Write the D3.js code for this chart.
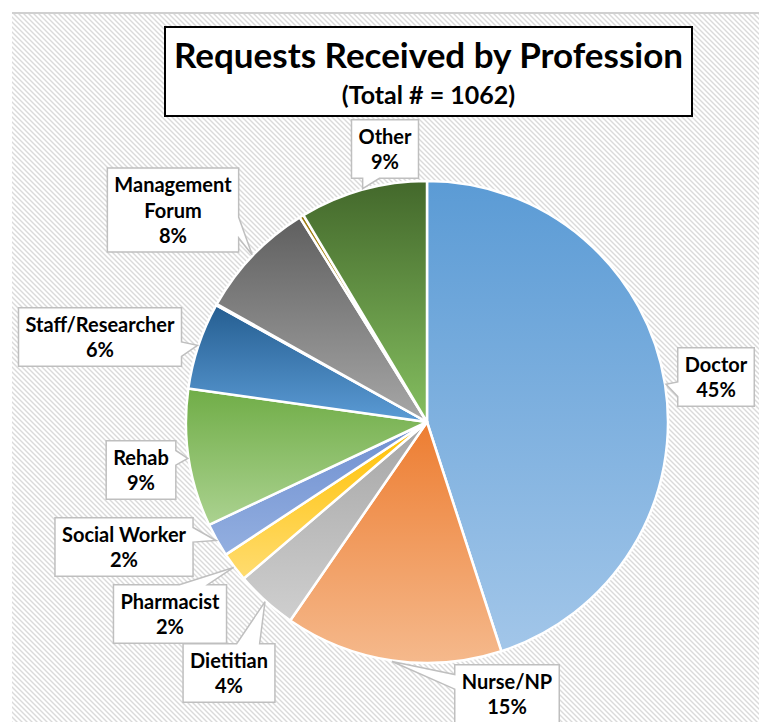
<!DOCTYPE html>
<html><head><meta charset="utf-8">
<script src="https://cdn.jsdelivr.net/npm/d3@7/dist/d3.min.js"></script>
<style>html,body{margin:0;padding:0;background:#fff;} svg{display:block;}</style>
</head><body>
<svg id="chart" width="763" height="722"></svg>
<script>
// ---------- data ----------
const categories = ["Doctor","Nurse/NP","Dietitian","Pharmacist","Social Worker","Rehab","Staff/Researcher","Unspecified A","Management Forum","Unspecified B","Other"];
const counts     = [478, 155, 44, 21, 24, 98, 62, 1, 85, 3, 91];
const labelLines = [["Doctor"],["Nurse/NP"],["Dietitian"],["Pharmacist"],["Social Worker"],["Rehab"],["Staff/Researcher"],[],["Management","Forum"],[],["Other"]];
const titleText = "Requests Received by Profession";

// ---------- styles / layout ----------
const colorTop    = ["#5b9bd5","#ed7d31","#a5a5a5","#ffc000","#6f8fd0","#70ad47","#255e91","#c55a11","#5f5f5f","#9c7a10","#43682b"];
const colorBottom = ["#a2c6e9","#f5b98c","#cfcfcf","#ffdc70","#93afe0","#abd290","#5b9bd5","#e5884a","#a7a7a7","#d6ad20","#85bf60"];
// callout centre offsets from pie centre (px)
const labelDX = [289, 80, -198, -257, -303, -286, -327, 0, -254, 0, -42];
const labelDY = [-45, 272, 251, 192, 125, 48, -85, 0, -212, 0, -273];

const W = 763, H = 722;
const cx = 427, cy = 422, R = 241;
const FONT = "Lato, 'Carlito', Calibri, 'DejaVu Sans', sans-serif";

const svg = d3.select("#chart");
const defs = svg.append("defs");

// hatch background
const pat = defs.append("pattern").attr("id","hatch").attr("patternUnits","userSpaceOnUse")
  .attr("width",5).attr("height",5);
pat.append("rect").attr("width",5).attr("height",5).attr("fill","#ffffff");
pat.append("path").attr("d","M-1,-1L6,6M-1,4L1,6M4,-1L6,1")
  .attr("stroke","#dadada").attr("stroke-width",1.4);

svg.append("rect").attr("x",12).attr("y",12).attr("width",747).attr("height",H)
  .attr("fill","url(#hatch)");
svg.append("line").attr("x1",12).attr("x2",759).attr("y1",13).attr("y2",13)
  .attr("stroke","#d0d0d0").attr("stroke-width",2);

// gradients
categories.forEach((c,i)=>{
  const g = defs.append("linearGradient").attr("id","g"+i)
    .attr("x1",0).attr("y1",0).attr("x2",0).attr("y2",1);
  g.append("stop").attr("offset","0%").attr("stop-color",colorTop[i]);
  g.append("stop").attr("offset","100%").attr("stop-color",colorBottom[i]);
});

// pie
const total = d3.sum(counts);
const pie = d3.pie().sort(null).value(d=>d.v).startAngle(0).endAngle(2*Math.PI);
const rows = categories.map((c,i)=>({c, v:counts[i], i}));
const arcs = pie(rows);
const arc = d3.arc().innerRadius(0).outerRadius(R);
const tipArc = d3.arc().innerRadius(R+1).outerRadius(R+1);

const gPie = svg.append("g").attr("transform",`translate(${cx},${cy})`);
gPie.selectAll("path.slice").data(arcs).join("path").attr("class","slice")
  .attr("d",arc)
  .attr("fill",d=>`url(#g${d.data.i})`)
  .attr("stroke","#ffffff").attr("stroke-width",2.5).attr("stroke-linejoin","round");

// callout shape (Office wedgeRectCallout)
function calloutPath(x0,y0,w,h,tx,ty){
  const hc = x0+w/2, vc = y0+h/2;
  const dxPos = tx-hc, dyPos = ty-vc;
  const dq = dxPos*h/w;
  const vertical = Math.abs(dyPos) - Math.abs(dq) > 0;
  const x1 = x0 + w*(dxPos>0?7:2)/12, x2 = x0 + w*(dxPos>0?10:5)/12;
  const y1 = y0 + h*(dyPos>0?7:2)/12, y2 = y0 + h*(dyPos>0?10:5)/12;
  let p = `M${x0},${y0}`;
  if (vertical && dyPos<0) p += `L${x1},${y0}L${tx},${ty}L${x2},${y0}`;
  p += `L${x0+w},${y0}`;
  if (!vertical && dxPos>0) p += `L${x0+w},${y1}L${tx},${ty}L${x0+w},${y2}`;
  p += `L${x0+w},${y0+h}`;
  if (vertical && dyPos>0) p += `L${x2},${y0+h}L${tx},${ty}L${x1},${y0+h}`;
  p += `L${x0},${y0+h}`;
  if (!vertical && dxPos<0) p += `L${x0},${y2}L${tx},${ty}L${x0},${y1}`;
  return p + "Z";
}

const LFS = 20, LH = 25.5;
arcs.forEach(d=>{
  const i = d.data.i;
  if (!labelLines[i].length) return;
  const lines = labelLines[i].concat([Math.round(d.data.v/total*100)+"%"]);
  const g = svg.append("g");
  const lx = cx + labelDX[i], ly = cy + labelDY[i];
  const hgt = (lines.length-1)*LH + 33;
  const top = ly - hgt/2;
  const bg = g.append("path");
  let maxW = 0;
  lines.forEach((t,k)=>{
    const tx = g.append("text").attr("x",lx).attr("y",top + 24 + k*LH)
      .attr("text-anchor","middle").attr("font-family",FONT).attr("font-weight","bold")
      .attr("font-size",LFS).attr("fill","#000").text(t);
    maxW = Math.max(maxW, tx.node().getComputedTextLength());
  });
  const w = maxW + 14;
  const [tx,ty] = tipArc.centroid(d);
  bg.attr("d",calloutPath(lx-w/2, top, w, hgt, cx+tx, cy+ty))
    .attr("fill","#ffffff").attr("stroke","#bfbfbf").attr("stroke-width",1.5);
});

// title
svg.append("rect").attr("x",165).attr("y",27).attr("width",527).attr("height",89)
  .attr("fill","#ffffff").attr("stroke","#000").attr("stroke-width",2);
svg.append("text").attr("x",428.5).attr("y",68).attr("text-anchor","middle")
  .attr("font-family",FONT).attr("font-weight","bold").attr("font-size",35).attr("fill","#000")
  .text(titleText);
svg.append("text").attr("x",428.5).attr("y",104).attr("text-anchor","middle")
  .attr("font-family",FONT).attr("font-weight","bold").attr("font-size",25).attr("fill","#000")
  .text(`(Total # = ${total})`);
</script>
</body></html>
